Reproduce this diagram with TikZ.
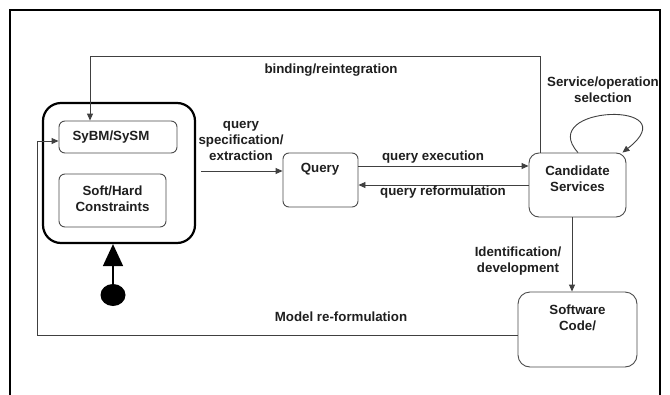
\documentclass[tikz,border=0pt]{standalone}
\usepackage{fontspec}
\setmainfont{Liberation Sans}
\usetikzlibrary{arrows.meta,shapes.geometric}
\begin{document}
\begin{tikzpicture}[x=1pt,y=-1pt,
  lbl/.style={font=\fontsize{13.3}{16}\selectfont\bfseries, text=black!88, align=center, inner sep=0pt},
  box/.style={draw=black!70, line width=0.9pt, rounded corners=6pt, inner sep=0pt},
  bigbox/.style={draw=black, line width=2.2pt, rounded corners=18pt, inner sep=0pt},
  arr/.style={draw=black!75, line width=0.9pt, -{Triangle[length=7pt,width=6pt]}},
  initarr/.style={draw=black, line width=1.6pt, -{Triangle[length=22pt,width=20pt]}}]
\useasboundingbox (0,0) rectangle (670,394);
\fill[white] (0,0) rectangle (670,394);
% frame
\draw[line width=1.8pt] (10,395) -- (10,10) -- (660,10) -- (660,395);

% boxes
\node[bigbox, minimum width=152pt, minimum height=140pt] (outer) at (119,173) {};
\node[box, minimum width=118pt, minimum height=32pt] (sybm) at (118,137) {};
\node[lbl] at (111,137) {SyBM/SySM};
\node[box, minimum width=107pt, minimum height=53pt] (soft) at (112.5,200.5) {};
\node[lbl] at (112.5,199) {Soft/Hard\\Constraints};
\node[box, minimum width=75pt, minimum height=54pt] (q) at (320.5,180) {};
\node[lbl] at (320,169) {Query};
\node[box, rounded corners=10pt, minimum width=97pt, minimum height=64pt] (cand) at (577.5,185) {};
\node[lbl] at (577.5,178.5) {Candidate\\Services};
\node[box, rounded corners=12pt, minimum width=119pt, minimum height=75pt] (sc) at (577.5,329.5) {};
\node[lbl] at (577.5,318) {Software\\Code/};

% initial state
\node[fill=black, ellipse, minimum width=25pt, minimum height=22pt, inner sep=0pt] (init) at (113,295) {};
\draw[initarr] (init.north) -- ([xshift=-6pt]outer.south);

% connectors
\coordinate (b1) at (90,56);
\draw[arr] ([xshift=-37.5pt]cand.north) |- (b1) -- ([xshift=-28pt]sybm.north);
\node[lbl] at (331,70) {binding/reintegration};

\coordinate (m1) at (37,141);
\draw[arr] ([yshift=-5.5pt]sc.west) -| (m1) -- ([yshift=-4pt]sybm.west);
\node[lbl] at (341,317) {Model re-formulation};

\draw[arr] ([xshift=5pt,yshift=2pt]outer.east) -- ([yshift=9pt]q.west);
\node[lbl] at (241,140.5) {query\\specification/\\extraction};

\draw[arr] ([yshift=14pt]q.east) -- ([yshift=19pt]cand.west);
\node[lbl] at (433,157) {query execution};
\draw[arr] (cand.west) -- ([yshift=-5pt]q.east);
\node[lbl] at (443,192) {query reformulation};

\draw[arr] ([xshift=-5.5pt]cand.south) -- ([xshift=-5.5pt]sc.north);
\node[lbl] at (518,261.5) {Identification/\\development};

\draw[arr] ([xshift=0.5pt]cand.north) .. controls (535,105) and (690,100) .. ([xshift=-4pt]cand.north east);
\node[lbl] at (603,90) {Service/operation\\selection};
\end{tikzpicture}
\end{document}
